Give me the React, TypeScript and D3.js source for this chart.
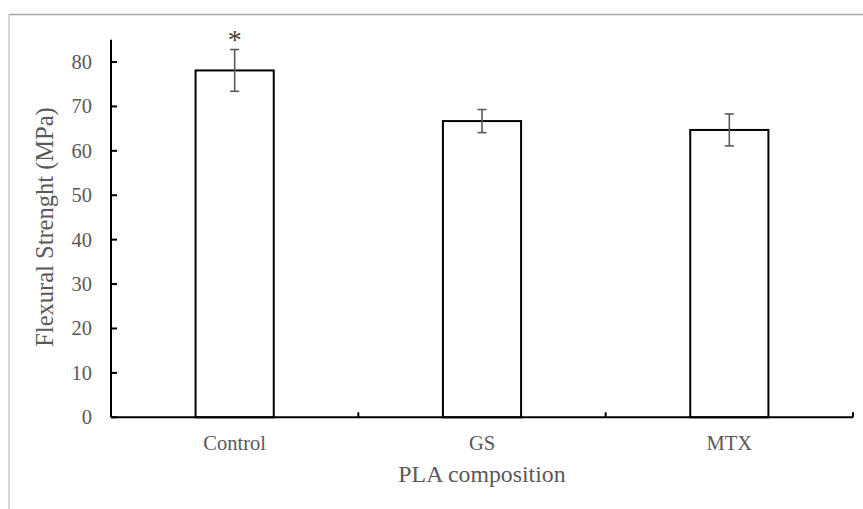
import React from "react";
import * as d3 from "d3";

const categories = ["Control", "GS", "MTX"];
const values = [78.1, 66.7, 64.7];
const errors = [4.7, 2.6, 3.6];
const significance = ["*", "", ""];
const yTicks = [0, 10, 20, 30, 40, 50, 60, 70, 80];
const yTitle = "Flexural Strenght (MPa)";
const xTitle = "PLA composition";

const W = 863;
const H = 509;
const FONT = "'Liberation Serif', 'Times New Roman', serif";
const TEXT = "#595959";

export default function App() {
  const left = 111;
  const right = 853;
  const y = d3.scaleLinear().domain([0, 85]).range([417.3, 39.8]);
  const xOuter = d3.scaleBand<string>().domain(categories).range([left, right]).padding(0);
  const x = d3
    .scaleBand<string>()
    .domain(categories)
    .range([left, right])
    .paddingInner(0.684)
    .paddingOuter(0.342);
  const step = xOuter.step();
  const boundaries = d3.range(categories.length + 1).map((i) => left + i * step);
  const y0 = y(0);
  const cap = 4.5;

  return (
    <svg
      width={W}
      height={H}
      style={{ position: "absolute", left: 0, top: 0, background: "#fff" }}
      fontFamily={FONT}
    >
      <rect x={0} y={0} width={W} height={H} fill="#fff" />
      {/* frame */}
      <line x1={9} y1={14.5} x2={W} y2={14.5} stroke="#a6a6a6" strokeWidth={1.5} />
      <line x1={9} y1={14.5} x2={9} y2={H} stroke="#c8c8c8" strokeWidth={1.5} />

      {/* bars */}
      {categories.map((c, i) => (
        <rect
          key={c}
          x={x(c)}
          y={y(values[i])}
          width={x.bandwidth()}
          height={y0 - y(values[i])}
          fill="#fff"
          stroke="#000"
          strokeWidth={2}
        />
      ))}

      {/* error bars */}
      {categories.map((c, i) => {
        const cx = (x(c) as number) + x.bandwidth() / 2;
        const top = y(values[i] + errors[i]);
        const bot = y(values[i] - errors[i]);
        return (
          <g key={c} stroke="#595959" strokeWidth={1.6}>
            <line x1={cx} x2={cx} y1={top} y2={bot} />
            <line x1={cx - cap} x2={cx + cap} y1={top} y2={top} />
            <line x1={cx - cap} x2={cx + cap} y1={bot} y2={bot} />
          </g>
        );
      })}

      {/* significance */}
      {categories.map((c, i) =>
        significance[i] ? (
          <text
            key={c}
            x={(x(c) as number) + x.bandwidth() / 2}
            y={y(values[i] + errors[i]) - 1}
            textAnchor="middle"
            fontSize={28}
            fill="#404040"
          >
            {significance[i]}
          </text>
        ) : null
      )}

      {/* y axis */}
      <line x1={left} x2={left} y1={y(85)} y2={y0} stroke="#000" strokeWidth={2} />
      {yTicks.map((t) => (
        <g key={t}>
          <line x1={left} x2={left + 6} y1={y(t)} y2={y(t)} stroke="#000" strokeWidth={2} />
          <text x={92} y={y(t)} dy="0.34em" textAnchor="end" fontSize={20.5} fill={TEXT}>
            {t}
          </text>
        </g>
      ))}

      {/* x axis */}
      <line x1={left} x2={right} y1={y0} y2={y0} stroke="#000" strokeWidth={2} />
      {boundaries.map((b, i) => (
        <line key={i} x1={b} x2={b} y1={y0} y2={y0 - 5} stroke="#000" strokeWidth={2} />
      ))}
      {categories.map((c) => (
        <text
          key={c}
          x={(xOuter(c) as number) + step / 2}
          y={450}
          textAnchor="middle"
          fontSize={20.5}
          fill={TEXT}
        >
          {c}
        </text>
      ))}

      {/* titles */}
      <text x={482} y={482} textAnchor="middle" fontSize={23.8} fill={TEXT}>
        {xTitle}
      </text>
      <text
        transform={`translate(53, ${227}) rotate(-90)`}
        textAnchor="middle"
        fontSize={24.5}
        fill={TEXT}
      >
        {yTitle}
      </text>
    </svg>
  );
}
